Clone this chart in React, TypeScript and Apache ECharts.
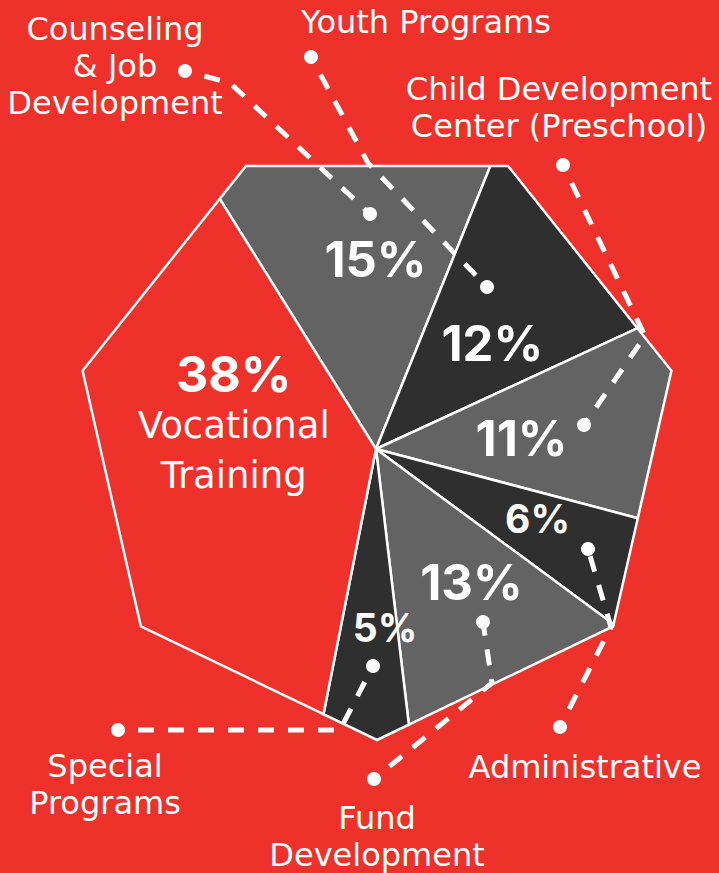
import React, { useEffect, useRef } from "react";
import * as echarts from "echarts";

// ---- data ----
const categories = [
  "Counseling\n& Job\nDevelopment",
  "Youth Programs",
  "Child Development\nCenter (Preschool)",
  "Administrative",
  "Fund\nDevelopment",
  "Special\nPrograms",
  "Vocational\nTraining",
];
const values = [15, 12, 11, 6, 13, 5, 38];

// ---- layout / style (not data) ----
const W = 719;
const H = 873;
const BG = "#ee322b";
const PIE_C = [376, 449];
const HEPT_C = [377, 438];
const HEPT_R = 302;
const START_ANGLE = -32; // degrees, clockwise from 12 o'clock
const sliceFill = ["#636363", "#2f2f2f", "#636363", "#2f2f2f", "#636363", "#2f2f2f", BG];
const labelNudge = [4.85, 4.2, 0.9, -2.2, -5.4, -5.1, 21.5];
const labelRadius = [190, 157, 146, 176, 164, 179, 145];
const pctFont = [49, 49, 49, 39, 49, 39, 50];
const nameInside = [false, false, false, false, false, false, true];
const namePos: (number[] | null)[] = [
  [115, 29],
  [426, 22],
  [559, 89],
  [585, 767],
  [377, 818],
  [105, 766],
  null,
];
const leaders: (number[][] | null)[] = [
  [[185, 71], [230, 83], [370, 214]],
  [[311, 57], [368, 163], [487, 287]],
  [[563, 165], [645, 336], [584, 425]],
  [[560, 727], [611, 627], [588, 549]],
  [[374, 779], [492, 683], [483, 622]],
  [[118, 730], [340, 730], [373, 666]],
  null,
];
const PCT_FONT = "Inter, 'Open Sans', sans-serif";
const NAME_FONT = "'DejaVu Sans', Inter, sans-serif";

function polar(c: number[], deg: number, r: number) {
  const a = (deg * Math.PI) / 180;
  return [c[0] + r * Math.sin(a), c[1] - r * Math.cos(a)];
}
const heptagon = Array.from({ length: 7 }, (_, k) => polar(HEPT_C, 180 + (k * 360) / 7, HEPT_R));

function angleOf(p: number[]) {
  return (Math.atan2(p[0] - PIE_C[0], -(p[1] - PIE_C[1])) * 180) / Math.PI;
}
function norm(a: number) {
  return ((a % 360) + 360) % 360;
}
function rayHit(deg: number) {
  const a = (deg * Math.PI) / 180;
  const d = [Math.sin(a), -Math.cos(a)];
  for (let i = 0; i < heptagon.length; i++) {
    const p = heptagon[i];
    const q = heptagon[(i + 1) % heptagon.length];
    const e = [q[0] - p[0], q[1] - p[1]];
    const w = [p[0] - PIE_C[0], p[1] - PIE_C[1]];
    const det = -d[0] * e[1] + e[0] * d[1];
    if (Math.abs(det) < 1e-9) continue;
    const t = (-w[0] * e[1] + e[0] * w[1]) / det;
    const s = (d[0] * w[1] - d[1] * w[0]) / det;
    if (t > 0 && s >= -1e-9 && s <= 1 + 1e-9) return [PIE_C[0] + t * d[0], PIE_C[1] + t * d[1]];
  }
  return PIE_C;
}

const total = values.reduce((s, v) => s + v, 0);

function txt(x: number, y: number, text: string, font: string, z2: number) {
  return {
    type: "text",
    z2,
    x,
    y,
    style: {
      text,
      fill: "#ffffff",
      font,
      align: "center",
      verticalAlign: "middle",
      textAlign: "center",
      textVerticalAlign: "middle",
    },
  };
}

function renderItem(params: any, api: any) {
  const i = params.dataIndex;
  let before = 0;
  for (let k = 0; k < i; k++) before += values[k];
  const v = api.value(0);
  const a0 = START_ANGLE + (before / total) * 360;
  const span = (v / total) * 360;
  const a1 = a0 + span;
  const inner = heptagon
    .map((p) => ({ p, rel: norm(angleOf(p) - a0) }))
    .filter((o) => o.rel > 1e-6 && o.rel < span - 1e-6)
    .sort((x, y) => x.rel - y.rel)
    .map((o) => o.p);
  const points = [PIE_C, rayHit(a0), ...inner, rayHit(a1)];

  const children: any[] = [
    {
      type: "polygon",
      z2: 1,
      shape: { points },
      style: { fill: sliceFill[i], stroke: "#ffffff", lineWidth: 2.5, lineJoin: "miter", miterLimit: 4 },
    },
  ];

  const lp = polar(PIE_C, a0 + span / 2 + labelNudge[i], labelRadius[i]);
  const pct = v + "%";
  const lines = categories[i].split("\n");
  if (nameInside[i]) {
    children.push(txt(lp[0], lp[1] - 47, pct, `700 ${pctFont[i]}px ${PCT_FONT}`, 30));
    lines.forEach((ln, j) => {
      children.push(txt(lp[0], lp[1] + 4 + j * 50, ln, `400 37px ${NAME_FONT}`, 30));
    });
  } else {
    children.push(txt(lp[0], lp[1], pct, `700 ${pctFont[i]}px ${PCT_FONT}`, 30));
    const np = namePos[i];
    if (np) {
      lines.forEach((ln, j) => {
        children.push(txt(np[0], np[1] + j * 37, ln, `400 32px ${NAME_FONT}`, 30));
      });
    }
    const path = leaders[i];
    if (path) {
      children.push({
        type: "polyline",
        z2: 20,
        shape: { points: path },
        style: { stroke: "#ffffff", fill: "none", lineWidth: 5, lineDash: [16, 14], lineDashOffset: -20 },
      });
      const last = path[path.length - 1];
      [path[0], last].forEach((p) => {
        children.push({
          type: "circle",
          z2: 21,
          shape: { cx: p[0], cy: p[1], r: 7 },
          style: { fill: "#ffffff" },
        });
      });
    }
  }
  return { type: "group", children };
}

export default function App() {
  const ref = useRef<HTMLDivElement>(null);
  useEffect(() => {
    document.body.style.margin = "0";
    const chart = echarts.init(ref.current as HTMLDivElement, undefined, { renderer: "svg" });
    chart.setOption({
      animation: false,
      backgroundColor: BG,
      series: [
        {
          type: "custom",
          coordinateSystem: "none",
          renderItem,
          data: values.map((v, i) => ({ value: [v], name: categories[i].replace(/\n/g, " ") })),
          silent: true,
        },
      ],
    });
    return () => chart.dispose();
  }, []);
  return <div ref={ref} style={{ position: "absolute", left: 0, top: 0, width: W, height: H }} />;
}
